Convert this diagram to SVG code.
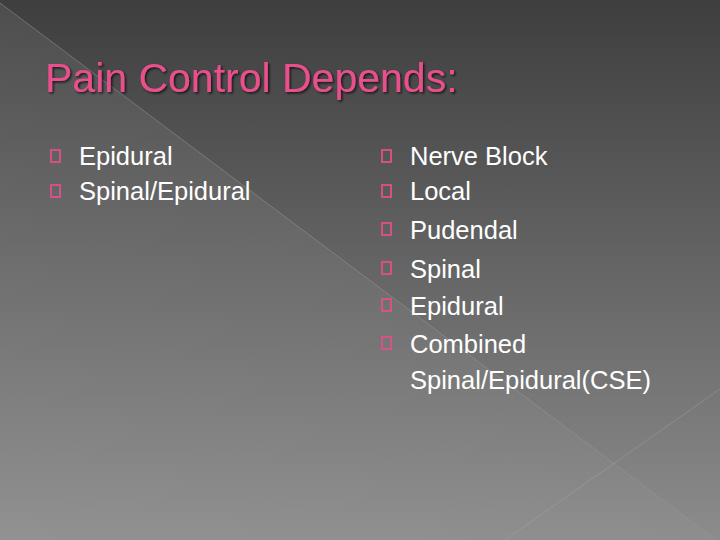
<svg xmlns="http://www.w3.org/2000/svg" width="720" height="540" viewBox="0 0 720 540">
<defs>
<linearGradient id="bg" x1="0" y1="0" x2="0" y2="1">
<stop offset="0" stop-color="#3e3e3e"/><stop offset="1" stop-color="#8c8c8c"/>
</linearGradient>
<linearGradient id="sheen" x1="0" y1="0" x2="1" y2="1">
<stop offset="0" stop-color="#ffffff" stop-opacity="0.08"/><stop offset="1" stop-color="#ffffff" stop-opacity="0.02"/>
</linearGradient>
<filter id="sh" x="-5%" y="-20%" width="110%" height="140%">
<feDropShadow dx="1.5" dy="1.5" stdDeviation="0.8" flood-color="#000" flood-opacity="0.7"/>
</filter>
</defs>
<style>
.t{font-family:"Liberation Sans",Arial,sans-serif;font-size:25.5px;fill:#ffffff}
.b{fill:none;stroke:#e0508a;stroke-width:1.8}
</style>
<rect width="720" height="540" fill="url(#bg)"/>
<polygon points="0,3 716,540 0,540" fill="url(#sheen)"/>
<line x1="0" y1="3" x2="716" y2="540" stroke="#9a9a9a" stroke-opacity="0.5" stroke-width="1"/>
<line x1="720" y1="389" x2="505" y2="540" stroke="#aaaaaa" stroke-opacity="0.4" stroke-width="1"/>
<g id="title"><text x="45" y="92" font-family="'Liberation Sans',Arial,sans-serif" font-size="41" fill="#e8508c" filter="url(#sh)">Pain Control Depends:</text></g>
<g id="left">
<rect class="b" x="51" y="150" width="9" height="12"/>
<text class="t" x="79" y="165">Epidural</text>
<rect class="b" x="51" y="185" width="9" height="12"/>
<text class="t" x="79" y="200">Spinal/Epidural</text>
</g>
<g id="right">
<rect class="b" x="382" y="150" width="9" height="12"/><text class="t" x="410" y="165">Nerve Block</text>
<rect class="b" x="382" y="185" width="9" height="12"/><text class="t" x="410" y="200">Local</text>
<rect class="b" x="382" y="223" width="9" height="12"/><text class="t" x="410" y="239">Pudendal</text>
<rect class="b" x="382" y="262" width="9" height="12"/><text class="t" x="410" y="278">Spinal</text>
<rect class="b" x="382" y="299" width="9" height="12"/><text class="t" x="410" y="315">Epidural</text>
<rect class="b" x="382" y="337" width="9" height="12"/><text class="t" x="410" y="353">Combined</text>
<text class="t" x="410" y="389">Spinal/Epidural(CSE)</text>
</g>
</svg>
